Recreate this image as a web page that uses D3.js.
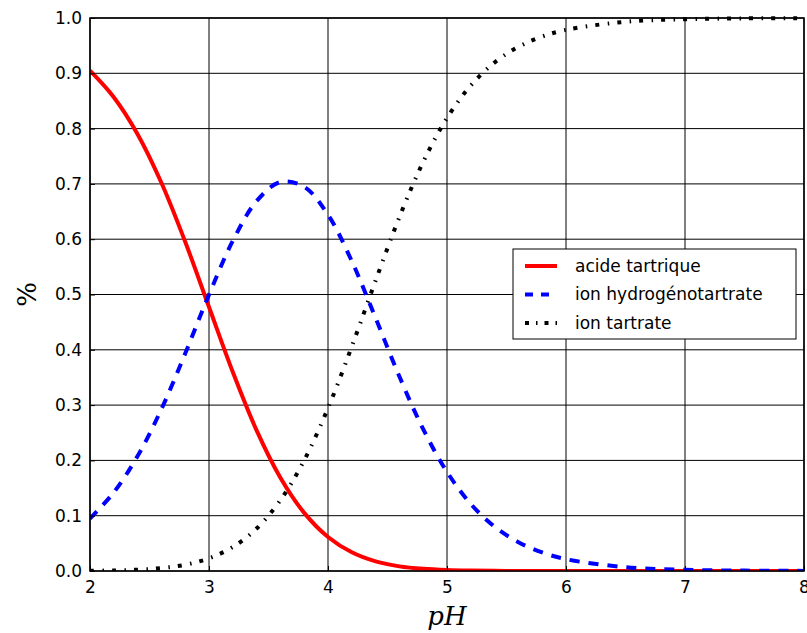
<!DOCTYPE html>
<html>
<head>
<meta charset="utf-8">
<script src="https://cdn.jsdelivr.net/npm/d3@7"></script>
<style>
  body { margin: 0; background: #fff; }
  svg { display: block; font-family: "DejaVu Sans", sans-serif; }
</style>
</head>
<body>
<svg id="chart" width="807" height="633"></svg>
<script>
// pH samples and fractions
const pH = [2.0, 2.2, 2.4, 2.6, 2.8, 3.0, 3.2, 3.4, 3.6, 3.8, 4.0, 4.2, 4.4, 4.6, 4.8, 5.0, 5.2, 5.4, 5.6, 5.8, 6.0, 6.5, 7.0, 7.5, 8.0];
const acide = [0.9048, 0.8568, 0.7899, 0.7020, 0.5953, 0.4773, 0.3597, 0.2543, 0.1687, 0.1051, 0.0615, 0.0338, 0.0174, 0.0084, 0.0039, 0.0017, 0.0007, 0.0003, 0.0001, 0.0001, 0.0000, 0.0000, 0.0000, 0.0000, 0.0000];
const hydrogeno = [0.0947, 0.1422, 0.2078, 0.2927, 0.3933, 0.4998, 0.5970, 0.6689, 0.7033, 0.6946, 0.6441, 0.5603, 0.4574, 0.3517, 0.2565, 0.1792, 0.1212, 0.0801, 0.0521, 0.0335, 0.0214, 0.0069, 0.0022, 0.0007, 0.0002];
const tartrate = [0.0004, 0.0010, 0.0024, 0.0053, 0.0113, 0.0229, 0.0433, 0.0768, 0.1280, 0.2003, 0.2944, 0.4059, 0.5252, 0.6399, 0.7397, 0.8191, 0.8780, 0.9196, 0.9478, 0.9664, 0.9786, 0.9931, 0.9978, 0.9993, 0.9998];

const xTicks = [2, 3, 4, 5, 6, 7, 8];
const yTicks = [0.0, 0.1, 0.2, 0.3, 0.4, 0.5, 0.6, 0.7, 0.8, 0.9, 1.0];

const series = [
  { name: 'acide tartrique', values: acide, color: 'red', dash: null, legendDash: null },
  { name: 'ion hydrogénotartrate', values: hydrogeno, color: 'blue', dash: '10,9', legendDash: '8,8' },
  { name: 'ion tartrate', values: tartrate, color: 'black', dash: '4,8.5,1.5,8', legendDash: '4,7,1.5,7' }
];

const svg = d3.select('#chart');
const margin = { top: 18, right: 3, bottom: 62, left: 90 };
const width = 807 - margin.left - margin.right;
const height = 633 - margin.top - margin.bottom;

const x = d3.scaleLinear().domain([2, 8]).range([0, width]);
const y = d3.scaleLinear().domain([0, 1]).range([height, 0]);

const g = svg.append('g').attr('transform', `translate(${margin.left},${margin.top})`);

// grid
g.append('g')
  .selectAll('line')
  .data(xTicks)
  .enter().append('line')
  .attr('x1', d => x(d)).attr('x2', d => x(d))
  .attr('y1', 0).attr('y2', height)
  .attr('stroke', 'black').attr('stroke-width', 1);

g.append('g')
  .selectAll('line')
  .data(yTicks)
  .enter().append('line')
  .attr('x1', 0).attr('x2', width)
  .attr('y1', d => y(d)).attr('y2', d => y(d))
  .attr('stroke', 'black').attr('stroke-width', 1);

// curves
const line = d3.line()
  .x((d, i) => x(pH[i]))
  .y(d => y(d))
  .curve(d3.curveCatmullRom);

svg.append('clipPath').attr('id', 'clip')
  .append('rect').attr('x', 0).attr('y', -3).attr('width', width).attr('height', height + 3);

series.forEach(s => {
  g.append('path')
    .datum(s.values)
    .attr('clip-path', 'url(#clip)')
    .attr('d', line)
    .attr('fill', 'none')
    .attr('stroke', s.color)
    .attr('stroke-width', 4)
    .attr('stroke-dasharray', s.dash);
});

// axes: tick labels, inward ticks on all sides
const xAxis = g.append('g')
  .attr('transform', `translate(0,${height})`)
  .call(d3.axisBottom(x).tickValues(xTicks).tickSize(-5).tickPadding(8).tickFormat(d3.format('d')));
const yAxis = g.append('g')
  .call(d3.axisLeft(y).tickValues(yTicks).tickSize(-5).tickPadding(8).tickFormat(d3.format('.1f')));

[xAxis, yAxis].forEach(a => {
  a.select('.domain').remove();
  a.selectAll('.tick text').attr('font-size', 17).attr('fill', 'black')
    .attr('font-family', '"DejaVu Sans", sans-serif');
});
xAxis.selectAll('.tick text').attr('dy', '0.85em');

g.append('rect')
  .attr('width', width).attr('height', height)
  .attr('fill', 'none').attr('stroke', 'black').attr('stroke-width', 1.5);

// axis labels
svg.append('text')
  .attr('x', margin.left + width / 2)
  .attr('y', 625)
  .attr('text-anchor', 'middle')
  .attr('font-family', '"DejaVu Serif", serif')
  .attr('font-style', 'italic')
  .attr('font-size', 26)
  .text('pH');

svg.append('text')
  .attr('transform', `translate(36,${margin.top + height / 2}) rotate(-90)`)
  .attr('text-anchor', 'middle')
  .attr('font-family', '"DejaVu Serif", serif')
  .attr('font-size', 26)
  .text('%');

// legend
const lg = g.append('g').attr('transform', `translate(${513 - margin.left},${249 - margin.top})`);
lg.append('rect')
  .attr('width', 283).attr('height', 90)
  .attr('fill', 'white').attr('stroke', 'black').attr('stroke-width', 1);

series.forEach((s, i) => {
  const ry = 17 + i * 28.5;
  lg.append('line')
    .attr('x1', 12).attr('x2', 44)
    .attr('y1', ry).attr('y2', ry)
    .attr('stroke', s.color).attr('stroke-width', 4)
    .attr('stroke-dasharray', s.legendDash);
  lg.append('text')
    .attr('x', 62).attr('y', ry)
    .attr('dy', '0.35em')
    .attr('font-size', 17)
    .text(s.name);
});
</script>
</body>
</html>
